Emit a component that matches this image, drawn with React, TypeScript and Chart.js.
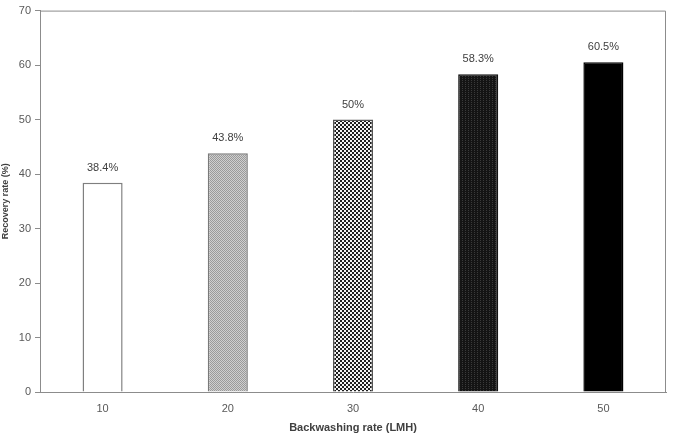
import React, { useEffect, useRef } from "react";
import { Chart, registerables } from "chart.js";

Chart.register(...registerables);

const categories = ["10", "20", "30", "40", "50"];
const recoveryRates = [38.4, 43.8, 50, 58.3, 60.5];
const valueLabels = ["38.4%", "43.8%", "50%", "58.3%", "60.5%"];
const yTicks = [0, 10, 20, 30, 40, 50, 60, 70];

function makePattern(kind: string): CanvasPattern | string {
  const c = document.createElement("canvas");
  const ctx = c.getContext("2d")!;
  if (kind === "light") {
    c.width = 2; c.height = 2;
    ctx.fillStyle = "#cfcfcf"; ctx.fillRect(0, 0, 2, 2);
    ctx.fillStyle = "#9a9a9a"; ctx.fillRect(0, 0, 1, 1); ctx.fillRect(1, 1, 1, 1);
  } else if (kind === "checker") {
    c.width = 4; c.height = 4;
    ctx.fillStyle = "#f4f4f4"; ctx.fillRect(0, 0, 4, 4);
    ctx.fillStyle = "#1e1e1e"; ctx.fillRect(0, 0, 2, 2); ctx.fillRect(2, 2, 2, 2);
  } else if (kind === "dark") {
    c.width = 3; c.height = 2;
    ctx.fillStyle = "#141414"; ctx.fillRect(0, 0, 3, 2);
    ctx.fillStyle = "#3a3a3a"; ctx.fillRect(0, 0, 1, 1);
  } else {
    return "#000000";
  }
  return ctx.createPattern(c, "repeat")!;
}

export default function App() {
  const ref = useRef<HTMLCanvasElement>(null);
  useEffect(() => {
    const fills = [
      "#ffffff",
      makePattern("light"),
      makePattern("checker"),
      makePattern("dark"),
      "#000000",
    ];
    const borderPlugin = {
      id: "frame",
      afterDraw(chart: any) {
        const { ctx, chartArea } = chart;
        ctx.save();
        ctx.strokeStyle = "#8c8c8c";
        ctx.lineWidth = 1;
        ctx.beginPath();
        ctx.moveTo(chartArea.left, chartArea.top + 0.5);
        ctx.lineTo(chartArea.right - 0.5, chartArea.top + 0.5);
        ctx.lineTo(chartArea.right - 0.5, chartArea.bottom);
        ctx.stroke();
        // value labels
        const meta = chart.getDatasetMeta(0);
        ctx.fillStyle = "#404040";
        ctx.font = "11px 'Liberation Sans', sans-serif";
        ctx.textAlign = "center";
        ctx.textBaseline = "middle";
        meta.data.forEach((bar: any, i: number) => {
          ctx.fillText(valueLabels[i], bar.x, bar.y - 15);
        });
        ctx.restore();
      },
    };
    const chart = new Chart(ref.current!, {
      type: "bar",
      data: {
        labels: categories,
        datasets: [
          {
            data: recoveryRates,
            backgroundColor: fills as any,
            borderColor: ["#7f7f7f", "#7a7a7a", "#555555", "#111111", "#000000"],
            borderWidth: 1.5,
            categoryPercentage: 1,
            barPercentage: 0.32,
          },
        ],
      },
      options: {
        animation: false,
        responsive: false,
        maintainAspectRatio: false,
        layout: { padding: { top: 10, right: 7, left: 0, bottom: 0 } },
        plugins: { legend: { display: false }, tooltip: { enabled: false } },
        scales: {
          x: {
            grid: { display: false, drawTicks: false },
            border: { display: true, color: "#8c8c8c", width: 1 },
            ticks: { color: "#595959", font: { size: 11, family: "'Liberation Sans', sans-serif" }, padding: 10 },
            title: {
              display: true,
              text: "Backwashing rate (LMH)",
              color: "#404040",
              font: { size: 11, weight: "bold", family: "'Liberation Sans', sans-serif" },
              padding: { top: 4, bottom: 0 },
            },
            afterFit(scale: any) {
              scale.height = 43;
            },
          },
          y: {
            min: 0,
            max: 70,
            afterBuildTicks(scale: any) {
              scale.ticks = yTicks.map((v) => ({ value: v }));
            },
            grid: { display: true, drawOnChartArea: false, drawTicks: true, tickLength: 5, color: "#8c8c8c" },
            border: { display: true, color: "#8c8c8c", width: 1 },
            ticks: { color: "#595959", font: { size: 11, family: "'Liberation Sans', sans-serif" }, padding: 4 },
            title: {
              display: true,
              text: "Recovery rate (%)",
              color: "#404040",
              font: { size: 9, weight: "bold", family: "'Liberation Sans', sans-serif" },
              padding: { top: 0, bottom: 0 },
            },
            afterFit(scale: any) {
              scale.width = 40;
            },
          },
        },
      },
      plugins: [borderPlugin],
    });
    return () => chart.destroy();
  }, []);
  return (
    <div style={{ position: "fixed", left: 0, top: 0, width: 673, height: 435, background: "#fff" }}>
      <canvas ref={ref} width={673} height={435} style={{ width: 673, height: 435 }} />
    </div>
  );
}
